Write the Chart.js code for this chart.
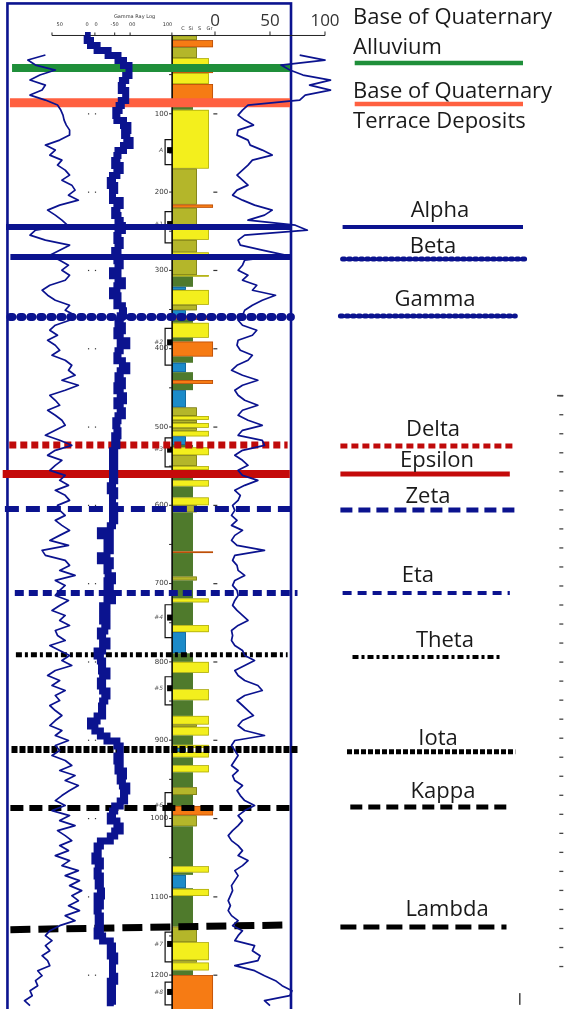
<!DOCTYPE html>
<html>
<head>
<meta charset="utf-8">
<script src="https://cdn.jsdelivr.net/npm/chart.js@4.4.1/dist/chart.umd.min.js"></script>
<style>
  html, body { margin: 0; padding: 0; background: #fff; }
  #wrap { width: 564px; height: 1009px; position: relative; }
</style>
</head>
<body>
<div id="wrap"><canvas id="log"></canvas></div>
<script>
/* ---- Digitised logs: regular depth sampling (ft), like a LAS file ---- */
const sampleStep = 6.39;
const grLeftStart = 25;
const grThickStart = 0;
const grRightStart = 25;

// thin gamma trace, left track (API)
const grLeft = [34,18,25,43,29,20,34,31,20,34,45,48,50,51,53,56,
  56,47,34,43,38,49,45,52,56,49,58,61,55,64,
  47,36,43,49,54,25,20,34,56,47,38,47,55,49,56,52,38,31,36,43,
  56,52,61,56,43,38,45,36,43,47,40,52,58,55,61,49,64,52,38,43,
  47,36,43,49,52,43,34,47,58,43,36,49,43,38,52,47,55,43,52,56,
  45,47,52,43,49,56,47,38,55,31,34,52,56,47,61,43,52,47,43,55,
  47,40,52,47,56,43,45,52,38,47,56,49,58,43,36,47,40,52,43,47,
  38,43,49,43,38,49,43,55,43,47,40,52,58,47,61,52,64,56,49,43,
  52,40,56,47,61,45,52,58,47,55,43,56,49,64,52,65,56,67,58,64,
  55,65,52,61,47,38,34,40,34,38,31,36,38,27,31,25,27,20,22,15,20];

// thick gamma trace, left track (API)
const grThick = [70,72,75,81,91,100,105,110,110,107,104,103,107,107,103,101,98,99,105,109,
  106,108,111,105,100,99,97,102,99,95,93,97,95,95,102,99,97,100,102,104,
  100,99,102,100,97,99,102,100,95,100,104,99,95,100,99,104,105,102,100,104,
  99,102,108,102,100,99,104,108,102,100,104,99,102,105,99,102,104,100,98,99,
  100,97,99,97,95,97,95,97,95,97,95,93,97,95,95,97,95,97,95,93,
  84,93,90,93,90,84,93,90,91,95,90,93,90,95,90,86,90,86,90,88,
  84,86,90,86,81,84,86,85,90,86,84,86,90,88,86,85,86,81,75,79,
  84,90,99,102,102,99,102,100,105,102,104,108,105,106,102,97,95,93,99,102,
  97,93,84,81,82,79,84,82,81,84,82,84,85,81,84,81,82,84,82,84,
  81,86,93,95,93,97,95,95,95,97,93,95,93,95,93];

// gamma trace, right track (0-100 API)
const grRight = [77,100,60,68,80,105,86,105,82,77,30,25,21,27,35,21,20,30,32,43,
  52,34,30,25,20,25,30,20,16,25,36,52,45,30,73,84,27,21,23,43,
  64,27,25,21,30,25,38,34,55,43,34,27,25,21,25,38,34,21,20,23,
  34,30,20,15,25,39,25,18,21,27,39,25,21,30,43,25,21,43,45,25,
  18,25,30,21,25,39,27,18,23,21,16,18,15,20,15,25,18,15,20,45,
  18,16,20,21,27,18,16,20,21,18,16,20,25,30,21,15,16,15,18,25,
  27,36,27,18,21,27,39,43,27,20,25,30,35,25,21,27,45,18,15,18,
  21,18,15,21,16,18,25,20,23,27,36,27,21,25,21,16,12,15,21,25,
  21,30,25,18,21,18,15,16,14,12,14,12,15,21,16,25,21,18,36,34,
  41,39,18,36,45,55,61,70,68,45,50];

const depthTicks = [100,200,300,400,500,600,700,800,900,1000,1100,1200];
const grScaleTicks = [0, 50, 100];

const horizonNames = ['Base of Quaternary Alluvium', 'Base of Quaternary Terrace Deposits',
  'Alpha','Beta','Gamma','Delta','Epsilon','Zeta','Eta','Theta','Iota','Kappa','Lambda'];
const horizonDepthW = [41.5, 86, 244.5, 283, 359.6, 523, 560, 604.6, 712, 791, 912, 986.5, 1142];
const horizonDepthE = [41.5, 86, 244.5, 283, 359.6, 523, 560, 604.6, 712, 791, 912, 986.5, 1136];

// lithology intervals: top, base, grain class
const lithology = [[0,6,'vf'],[6,15,'gravel'],[15,29,'vf'],[29,41,'sand'],[41,48,'gravel'],[48,62,'sand'],
  [62,82,'gravel'],[82,91,'sand'],[91,95,'silt'],[95,170,'sand'],[170,216,'vf'],[216,220,'gravel'],
  [220,246,'vf'],[246,261,'sand'],[261,277,'vf'],[277,284,'sand'],[284,306,'vf'],[306,308,'sand'],
  [308,321,'silt'],[321,325,'clay'],[325,344,'sand'],[344,351,'vf'],[351,358,'clay'],[358,363,'gravel'],
  [363,367,'silt'],[367,386,'sand'],[386,391,'silt'],[391,410,'gravel'],[410,418,'silt'],[418,430,'clay'],
  [430,440,'silt'],[440,445,'gravel'],[445,453,'silt'],[453,475,'clay'],[475,486,'vf'],[486,491,'sand'],
  [491,495,'vf'],[495,501,'sand'],[501,505,'vf'],[505,512,'sand'],[512,523,'clay'],[523,526,'silt'],
  [526,536,'sand'],[536,550,'vf'],[550,555,'sand'],[555,568,'silt'],[568,576,'sand'],[576,590,'silt'],
  [590,600,'sand'],[600,609,'vf'],[609,659,'silt'],[659,661,'gravel'],[661,691,'silt'],[691,696,'vf'],
  [696,719,'silt'],[719,724,'sand'],[724,753,'silt'],[753,762,'sand'],[762,789,'clay'],[789,800,'silt'],
  [800,814,'sand'],[814,835,'silt'],[835,849,'sand'],[849,869,'silt'],[869,880,'sand'],[880,883,'vf'],
  [883,894,'sand'],[894,906,'silt'],[906,910,'sand'],[910,915,'clay'],[915,922,'sand'],[922,932,'silt'],
  [932,941,'sand'],[941,960,'silt'],[960,970,'vf'],[970,984,'silt'],[984,996,'gravel'],[996,1010,'vf'],
  [1010,1061,'silt'],[1061,1069,'sand'],[1069,1072,'silt'],[1072,1089,'clay'],[1089,1090,'silt'],
  [1090,1099,'sand'],[1099,1138,'silt'],[1138,1158,'vf'],[1158,1181,'sand'],[1181,1184,'vf'],
  [1184,1194,'sand'],[1194,1200,'silt'],[1200,1245,'gravel']];

// sampled intervals (brackets beside the column)
const sampleTop = [133, 225, 374, 514, 727, 819, 967, 1145, 1209];
const sampleBase = [165, 265, 421, 551, 769, 855, 1010, 1183, 1238];
const sampleLabel = ['A', '#1', '#2', '#3', '#4', '#5', '#6', '#7', '#8'];

/* ---- Layout / style ---- */
const navy = '#0b138f';
const depthMin = -45.3, depthMax = 1243.3;
const litLeft = -39;
const litStyle = {
  clay:   { fill: '#1c8bc9', edge: -26.4, stroke: 'rgba(0,40,80,0.5)' },
  silt:   { fill: '#4f7a2c', edge: -20,   stroke: null },
  vf:     { fill: '#b4b62a', edge: -16.4, stroke: 'rgba(70,70,0,0.6)' },
  sand:   { fill: '#f3ef1d', edge: -5.5,  stroke: 'rgba(110,110,0,0.6)' },
  gravel: { fill: '#f67b14', edge: -1.8,  stroke: 'rgba(150,50,0,0.7)' }
};
const hzStyle = [
  { color: '#1f8f3a', width: 8, dash: [], cap: 'butt', from: -184.5, to: 68.2 },
  { color: '#ff6040', width: 9, dash: [], cap: 'butt', from: -186.4, to: 68.2 },
  { color: navy, width: 6, dash: [], cap: 'butt', from: -190, to: 69 },
  { color: navy, width: 6, dash: [], cap: 'butt', from: -186, to: 69 },
  { color: navy, width: 8, dash: [2, 8], cap: 'round', from: -186, to: 69 },
  { color: '#c00a0a', width: 7, dash: [7, 4], cap: 'butt', from: -187, to: 66 },
  { color: '#c40a0a', width: 8, dash: [], cap: 'butt', from: -193, to: 68 },
  { color: navy, width: 6, dash: [14, 7], cap: 'butt', from: -191, to: 69 },
  { color: navy, width: 6, dash: [9, 5], cap: 'butt', from: -182, to: 75 },
  { color: '#000', width: 5, dash: [6, 3, 3, 3], cap: 'butt', from: -181, to: 66 },
  { color: '#000', width: 7, dash: [6, 2], cap: 'butt', from: -185, to: 75 },
  { color: '#000', width: 6, dash: [13, 6], cap: 'butt', from: -186, to: 71 },
  { color: '#000', width: 7, dash: [20, 8], cap: 'butt', from: -186, to: 65 }
];
// legend keys on the right
const keyDepth = [35.1, 87.5, 244.5, 285.4, 358.2, 524.3, 560.1, 605.9, 711.9, 793.6, 914.9, 985.2, 1138.5];
const keyStyle = [
  { width: 4.5, dash: [], cap: 'butt', from: 127, to: 280 },
  { width: 4.5, dash: [], cap: 'butt', from: 127, to: 280 },
  { width: 4, dash: [], cap: 'butt', from: 116, to: 280 },
  { width: 5, dash: [2, 4], cap: 'round', from: 116, to: 282 },
  { width: 5, dash: [2, 4], cap: 'round', from: 114, to: 273 },
  { width: 5, dash: [7, 4], cap: 'butt', from: 114, to: 273 },
  { width: 5, dash: [], cap: 'butt', from: 114, to: 268 },
  { width: 5, dash: [12, 6], cap: 'butt', from: 114, to: 273 },
  { width: 4, dash: [9, 6], cap: 'butt', from: 116, to: 268 },
  { width: 4, dash: [6, 3, 3, 3], cap: 'butt', from: 125, to: 261 },
  { width: 5, dash: [5, 2], cap: 'butt', from: 120, to: 273 },
  { width: 5, dash: [12, 6], cap: 'butt', from: 123, to: 265 },
  { width: 5, dash: [16, 7], cap: 'butt', from: 114, to: 265 }
];
const keyText = [
  { x: 125.5, align: 'left', lines: [['Base of Quaternary', -45], ['Alluvium', -15]] },
  { x: 125.5, align: 'left', lines: [['Base of Quaternary', -12], ['Terrace Deposits', 18]] },
  { x: 204.5, lines: [['Alpha', -16]] },
  { x: 198.2, lines: [['Beta', -12]] },
  { x: 200, lines: [['Gamma', -16]] },
  { x: 198.2, lines: [['Delta', -16]] },
  { x: 201.8, lines: [['Epsilon', -13]] },
  { x: 193.6, lines: [['Zeta', -13]] },
  { x: 184.5, lines: [['Eta', -17]] },
  { x: 209, lines: [['Theta', -16]] },
  { x: 202.7, lines: [['Iota', -13]] },
  { x: 207.3, lines: [['Kappa', -15]] },
  { x: 210.9, lines: [['Lambda', -17]] }
];

function logPoints(start, values) {
  return values.map((v, i) => ({ x: v, y: start + i * sampleStep }));
}

const datasets = [];
// curves on top
datasets.push({ data: logPoints(grLeftStart, grLeft), xAxisID: 'xl', borderColor: navy, borderWidth: 1.7, order: 0 });
datasets.push({ data: logPoints(grThickStart, grThick), xAxisID: 'xl', borderColor: navy, borderWidth: 7, stepped: true, borderJoinStyle: 'miter', order: 0 });
datasets.push({ data: logPoints(grRightStart, grRight), xAxisID: 'xr', borderColor: navy, borderWidth: 1.7, order: 0 });
// horizons and their keys
horizonNames.forEach((name, i) => {
  const hs = hzStyle[i], ks = keyStyle[i];
  datasets.push({
    label: name, xAxisID: 'xr', order: 2,
    data: [{ x: hs.from, y: horizonDepthW[i] }, { x: hs.to, y: horizonDepthE[i] }],
    borderColor: hs.color, borderWidth: hs.width, borderDash: hs.dash, borderCapStyle: hs.cap
  });
  datasets.push({
    label: name + ' key', xAxisID: 'xr', order: 2,
    data: [{ x: ks.from, y: keyDepth[i] }, { x: ks.to, y: keyDepth[i] }],
    borderColor: hs.color, borderWidth: ks.width, borderDash: ks.dash, borderCapStyle: ks.cap
  });
});

const decor = {
  id: 'decor',
  beforeDatasetsDraw(chart) {
    const { ctx } = chart;
    const { y, xl, xr } = chart.scales;
    ctx.save();
    // lithology column
    const cx = xr.getPixelForValue(litLeft);
    lithology.forEach(([top, base, kind]) => {
      const st = litStyle[kind];
      const x1 = xr.getPixelForValue(st.edge);
      const y0 = y.getPixelForValue(top), y1 = y.getPixelForValue(base);
      ctx.fillStyle = st.fill;
      ctx.fillRect(cx, y0, x1 - cx, y1 - y0);
      if (st.stroke) {
        ctx.strokeStyle = st.stroke; ctx.lineWidth = 0.7;
        ctx.strokeRect(cx + 0.35, y0 + 0.35, x1 - cx - 0.7, y1 - y0 - 0.7);
      }
    });
    ctx.strokeStyle = '#000'; ctx.lineWidth = 1.5;
    ctx.beginPath();
    ctx.moveTo(cx, y.getPixelForValue(0)); ctx.lineTo(cx, y.getPixelForValue(depthMax));
    ctx.stroke();

    // frame
    ctx.strokeStyle = navy; ctx.lineWidth = 2.6;
    const fx0 = xl.getPixelForValue(-0.5), fx1 = xr.getPixelForValue(69.1);
    const fy0 = y.getPixelForValue(-40.9), fy1 = y.getPixelForValue(depthMax + 20);
    ctx.strokeRect(fx0, fy0, fx1 - fx0, fy1 - fy0);

    // depth ticks and labels
    ctx.strokeStyle = '#222'; ctx.lineWidth = 1;
    ctx.fillStyle = '#333';
    ctx.font = '7px "DejaVu Sans"';
    ctx.textAlign = 'right'; ctx.textBaseline = 'middle';
    for (let d = 50; d <= 1200; d += 50) {
      const py = y.getPixelForValue(d);
      ctx.beginPath(); ctx.moveTo(cx - 3, py); ctx.lineTo(cx, py); ctx.stroke();
    }
    depthTicks.forEach(d => {
      const py = y.getPixelForValue(d);
      ctx.fillText(String(d), cx - 4, py);
      ctx.fillRect(xr.getPixelForValue(-1.5), py - 0.5, 4, 1.2);
      ctx.fillRect(xl.getPixelForValue(72.7), py - 0.5, 1.2, 1.2);
      ctx.fillRect(xl.getPixelForValue(79), py - 0.5, 1.2, 1.2);
    });

    // sample brackets
    sampleTop.forEach((top, i) => {
      const y0 = y.getPixelForValue(top), y1 = y.getPixelForValue(sampleBase[i]);
      const bx = cx - 7;
      ctx.strokeStyle = '#111'; ctx.lineWidth = 1.2;
      ctx.beginPath();
      ctx.moveTo(cx, y0); ctx.lineTo(bx, y0); ctx.lineTo(bx, y1); ctx.lineTo(cx, y1);
      ctx.stroke();
      ctx.fillStyle = '#000';
      ctx.fillRect(cx - 5, y0 + (y1 - y0) * 0.3, 5, 6);
      ctx.fillStyle = '#555';
      ctx.font = 'italic 6px "DejaVu Sans"';
      ctx.fillText(sampleLabel[i], bx - 2, y0 + (y1 - y0) * 0.3 + 3);
    });

    // top scale
    const ay = y.getPixelForValue(0);
    ctx.strokeStyle = '#222'; ctx.lineWidth = 1;
    ctx.beginPath();
    ctx.moveTo(xl.getPixelForValue(40), ay); ctx.lineTo(xr.getPixelForValue(100), ay);
    [40, 72.7, 79, 97, 111, 149].forEach(v => {
      const px = xl.getPixelForValue(v);
      ctx.moveTo(px, ay); ctx.lineTo(px, ay - 3);
    });
    grScaleTicks.forEach(v => {
      const px = xr.getPixelForValue(v);
      ctx.moveTo(px, ay); ctx.lineTo(px, ay - 4);
    });
    ctx.stroke();
    ctx.textAlign = 'center'; ctx.textBaseline = 'alphabetic';
    ctx.fillStyle = '#333';
    ctx.font = '17px "Open Sans"';
    grScaleTicks.forEach(v => ctx.fillText(String(v), xr.getPixelForValue(v), ay - 9));
    ctx.font = '5px "DejaVu Sans"';
    ctx.fillText('Gamma Ray Log', xl.getPixelForValue(115), ay - 17);
    [['50', 47], ['0', 72], ['0', 80], ['-50', 97], ['00', 113], ['100', 145]].forEach(([t, v]) => {
      ctx.fillText(t, xl.getPixelForValue(v), ay - 9);
    });
    [['C', -29], ['Si', -22], ['S', -14], ['Gr', -5]].forEach(([t, v]) => {
      ctx.fillText(t, xr.getPixelForValue(v), ay - 5);
    });

    // cropped axis of the neighbouring figure
    ctx.fillStyle = '#444';
    for (let d = 460; d <= 1210; d += 24.3) {
      ctx.fillRect(xr.getPixelForValue(313), y.getPixelForValue(d) - 0.6, 4, 1.3);
    }
    ctx.fillRect(xr.getPixelForValue(311), y.getPixelForValue(460) - 0.8, 6, 1.6);
    ctx.fillRect(xr.getPixelForValue(276.4), y.getPixelForValue(1223), 1.5, y.getPixelForValue(1238) - y.getPixelForValue(1223));
    ctx.restore();
  },
  afterDatasetsDraw(chart) {
    const { ctx } = chart;
    const { y, xr } = chart.scales;
    ctx.save();
    ctx.fillStyle = '#1a1a1a';
    ctx.font = '22px "Open Sans"';
    ctx.textBaseline = 'middle';
    keyText.forEach((k, i) => {
      ctx.textAlign = k.align || 'center';
      const base = y.getPixelForValue(keyDepth[i]);
      k.lines.forEach(([t, dy]) => ctx.fillText(t, xr.getPixelForValue(k.x), base + dy));
    });
    ctx.restore();
  }
};

new Chart(document.getElementById('log'), {
  type: 'line',
  data: { datasets },
  options: {
    responsive: true,
    maintainAspectRatio: false,
    animation: false,
    layout: { padding: 0 },
    elements: { point: { radius: 0, hoverRadius: 0 }, line: { tension: 0, borderJoinStyle: 'round' } },
    plugins: { legend: { display: false }, tooltip: { enabled: false } },
    scales: {
      y: { type: 'linear', reverse: true, min: depthMin, max: depthMax, display: false },
      xl: { type: 'linear', axis: 'x', min: -7.27, max: 505.45, display: false },
      xr: { type: 'linear', axis: 'x', min: -195.45, max: 317.27, display: false }
    }
  },
  plugins: [decor]
});
</script>
</body>
</html>
